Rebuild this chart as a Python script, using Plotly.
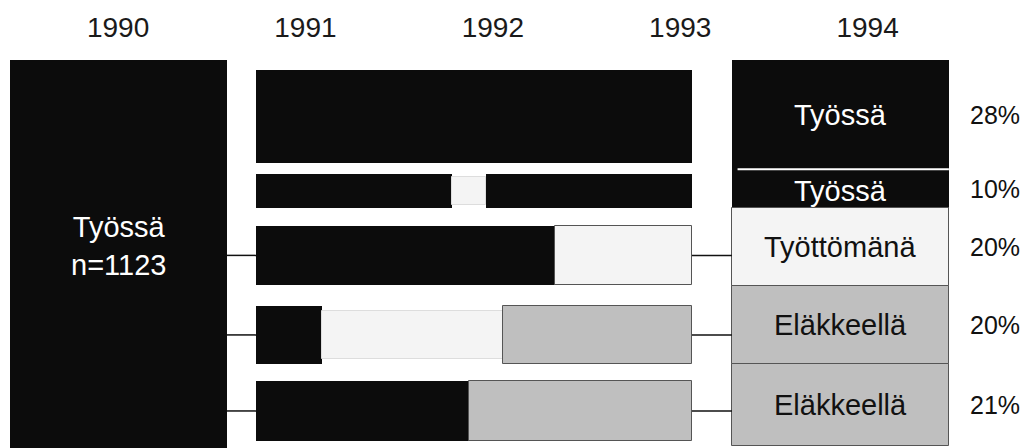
import numpy as np
import plotly.graph_objects as go

# ---------------- data ----------------
YEARS = [1990, 1991, 1992, 1993, 1994]
YEAR_LABELS = ["1990", "1991", "1992", "1993", "1994"]

START_LABEL = "Työssä<br>n=1123"
START_SHARE = 100

OUTCOME_LABELS = ["Työssä", "Työssä", "Työttömänä", "Eläkkeellä", "Eläkkeellä"]
OUTCOME_STATES = ["tyo", "tyo", "tyoton", "elake", "elake"]
OUTCOME_SHARES = [28, 10, 20, 20, 21]
OUTCOME_PCT_LABELS = ["28%", "10%", "20%", "20%", "21%"]

# follow-up paths 1991-1993 (share of the follow-up period, %)
PATH_STATES = [
    ["tyo"],
    ["tyo", "tyoton", "tyo"],
    ["tyo", "tyoton"],
    ["tyo", "tyoton", "elake"],
    ["tyo", "elake"],
]
PATH_BOUNDS = [
    [0, 100],
    [0, 45.0, 52.8, 100],
    [0, 68.6, 100],
    [0, 15.1, 56.7, 100],
    [0, 48.9, 100],
]

# ---------------- layout / style ----------------
W, H = 1031, 448
FONT = "Liberation Sans, Arial, sans-serif"
COLORS = {"tyo": "#0c0c0c", "tyoton": "#f4f4f4", "elake": "#bfbfbf"}
TEXT_COLORS = {"tyo": "white", "tyoton": "#111111", "elake": "#111111"}
EDGE = "#555555"

X2_RANGE = [1989.37, 1994.872]          # year axis spanning the whole figure
Y_RANGE = [99.5, -15.4]                 # share axis (reversed)
TL_DOMAIN = [256 / W, 692 / W]          # timeline axis domain
BLOCK_W = 1.158                         # width of the start/end blocks (years)
RIGHT_X = 1993.855                      # centre of the end block
PCT_X = 1994.68                         # x of percentage labels
LEFT_TEXT_Y = 47.6

ROW_CENTERS = [14.5, 33.6, 50.1, 70.5, 90.0]
ROW_HEIGHTS = [23.8, 8.7, 15.1, 14.9, 15.4]
CONNECTED_ROWS = [2, 3, 4]
SHORT_SEG_INSET = 0.82                  # interlude box inside a row (row 2)


def paper_to_x2(p):
    return X2_RANGE[0] + p * (X2_RANGE[1] - X2_RANGE[0])


fig = go.Figure()

# start block (1990)
fig.add_trace(go.Bar(
    x=[YEARS[0]], y=[START_SHARE], base=[0], width=[BLOCK_W],
    xaxis="x2", yaxis="y", marker=dict(color=COLORS["tyo"], line=dict(width=0)),
    hoverinfo="skip", showlegend=False,
))

# timeline rows
for state in ["tyo", "tyoton", "elake"]:
    ys, xs, bases, widths, lcols, lwids = [], [], [], [], [], []
    for r, (states, bounds) in enumerate(zip(PATH_STATES, PATH_BOUNDS)):
        for i, s in enumerate(states):
            if s != state:
                continue
            x0, x1 = bounds[i], bounds[i + 1]
            inner = 0 < i < len(states) - 1
            ys.append(ROW_CENTERS[r])
            bases.append(x0)
            xs.append(x1 - x0)
            widths.append(ROW_HEIGHTS[r] * (SHORT_SEG_INSET if inner else 1.0))
            if state == "tyo":
                lcols.append(COLORS["tyo"]); lwids.append(0)
            elif inner:
                lcols.append("#dddddd"); lwids.append(1)
            else:
                lcols.append(EDGE); lwids.append(1)
    fig.add_trace(go.Bar(
        orientation="h", x=xs, y=ys, base=bases, width=widths,
        xaxis="x", yaxis="y",
        marker=dict(color=COLORS[state], line=dict(color=lcols, width=lwids)),
        hoverinfo="skip", showlegend=False,
    ))

# end block (1994)
cum = np.concatenate([[0], np.cumsum(OUTCOME_SHARES)[:-1]])
fig.add_trace(go.Bar(
    x=[RIGHT_X] * len(OUTCOME_SHARES), y=OUTCOME_SHARES, base=cum.tolist(),
    width=[BLOCK_W] * len(OUTCOME_SHARES), xaxis="x2", yaxis="y",
    marker=dict(
        color=[COLORS[s] for s in OUTCOME_STATES],
        line=dict(color=[COLORS[s] if s == "tyo" else EDGE for s in OUTCOME_STATES],
                  width=[0 if s == "tyo" else 1 for s in OUTCOME_STATES]),
    ),
    hoverinfo="skip", showlegend=False,
))

shapes = []
# white separator between the two "Työssä" segments
shapes.append(dict(type="line", xref="x2", yref="y",
                   x0=RIGHT_X - BLOCK_W / 2 + 0.03, x1=RIGHT_X + BLOCK_W / 2,
                   y0=cum[1], y1=cum[1], line=dict(color="white", width=2)))
# connectors
left_edge = YEARS[0] + BLOCK_W / 2
tl_start = paper_to_x2(TL_DOMAIN[0])
tl_end = paper_to_x2(TL_DOMAIN[1])
right_edge = RIGHT_X - BLOCK_W / 2
for r in CONNECTED_ROWS:
    for a, b in [(left_edge, tl_start), (tl_end, right_edge)]:
        shapes.append(dict(type="line", xref="x2", yref="y", x0=a, x1=b,
                           y0=ROW_CENTERS[r], y1=ROW_CENTERS[r],
                           line=dict(color="#111111", width=1.5)))

annotations = []
annotations.append(dict(x=YEARS[0], y=LEFT_TEXT_Y, xref="x2", yref="y",
                        text=START_LABEL, showarrow=False,
                        font=dict(family=FONT, size=29, color="white")))
for lab, st, c, v, pl in zip(OUTCOME_LABELS, OUTCOME_STATES, cum, OUTCOME_SHARES,
                             OUTCOME_PCT_LABELS):
    yc = c + v / 2
    annotations.append(dict(x=RIGHT_X, y=yc + (0.6 if v < 15 else 0), xref="x2", yref="y",
                            text=lab, showarrow=False,
                            font=dict(family=FONT, size=29, color=TEXT_COLORS[st])))
    annotations.append(dict(x=PCT_X, y=yc, xref="x2", yref="y", text=pl,
                            showarrow=False,
                            font=dict(family=FONT, size=25, color="#111111")))

fig.update_layout(
    width=W, height=H, margin=dict(l=0, r=0, t=0, b=0),
    paper_bgcolor="white", plot_bgcolor="rgba(0,0,0,0)",
    barmode="overlay", bargap=0,
    xaxis=dict(domain=TL_DOMAIN, range=[0, 100], visible=False, fixedrange=True),
    xaxis2=dict(domain=[0, 1], range=X2_RANGE, anchor="free", position=0.905,
                side="top", tickvals=YEARS, ticktext=YEAR_LABELS, ticks="",
                showgrid=False, zeroline=False, showline=False, fixedrange=True,
                tickfont=dict(family=FONT, size=28, color="#1a1a1a")),
    yaxis=dict(domain=[0, 1], range=Y_RANGE, visible=False, fixedrange=True),
    shapes=shapes, annotations=annotations,
)

fig.write_html("out.html", config={"displayModeBar": False},
               post_script="document.body.style.margin='0px';")
